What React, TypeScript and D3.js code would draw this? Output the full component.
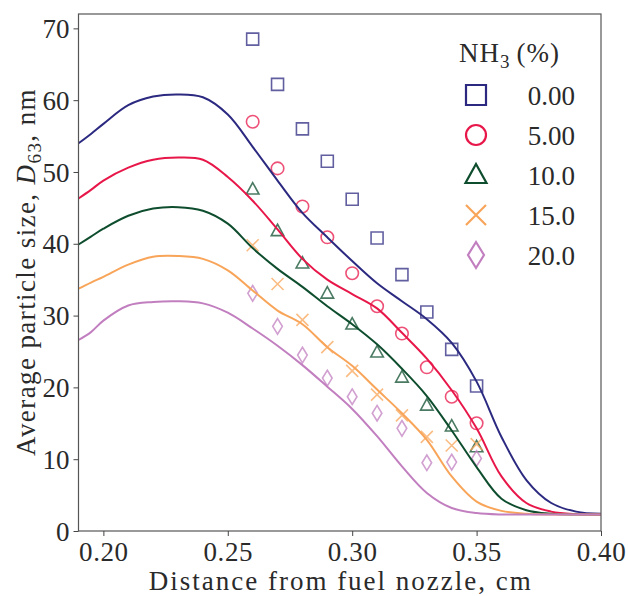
import React, { useEffect, useRef } from 'react';
import * as d3 from 'd3';

// simulated curves (x in cm)
const lineX = [0.19, 0.195, 0.20, 0.21, 0.22, 0.23, 0.24, 0.25, 0.26, 0.27, 0.28, 0.29, 0.30, 0.31, 0.32, 0.33, 0.34, 0.35, 0.36, 0.37, 0.38, 0.39, 0.40];
const line0 = [54.0, 55.3, 56.7, 59.3, 60.5, 60.8, 60.4, 58.0, 53.5, 48.8, 44.3, 40.9, 37.6, 34.5, 32.0, 29.5, 26.2, 20.8, 13.1, 7.1, 3.9, 2.7, 2.4];
const line5 = [46.3, 47.5, 48.8, 50.6, 51.7, 52.0, 51.7, 49.3, 46.0, 42.0, 37.9, 35.0, 33.0, 31.0, 27.6, 24.0, 19.6, 14.3, 7.6, 3.9, 2.7, 2.35, 2.3];
const line10 = [39.9, 41.0, 42.1, 43.9, 44.9, 45.1, 44.6, 42.8, 39.4, 36.5, 34.0, 31.3, 28.8, 26.0, 22.6, 18.8, 14.0, 8.9, 4.5, 2.9, 2.4, 2.3, 2.3];
const line15 = [33.75, 34.6, 35.4, 37.1, 38.2, 38.3, 37.9, 36.3, 33.5, 30.7, 28.8, 25.6, 23.0, 19.7, 16.4, 12.7, 7.6, 4.1, 2.8, 2.4, 2.3, 2.3, 2.3];
const line20 = [26.6, 27.7, 29.3, 31.4, 31.9, 32.0, 31.7, 30.4, 28.2, 25.8, 23.1, 20.1, 17.0, 13.2, 9.0, 5.3, 3.2, 2.5, 2.3, 2.3, 2.3, 2.3, 2.3];

// measured points
const pointX = [0.26, 0.27, 0.28, 0.29, 0.30, 0.31, 0.32, 0.33, 0.34, 0.35];
const pts0 = [68.5, 62.2, 56.0, 51.5, 46.2, 40.8, 35.7, 30.5, 25.3, 20.2];
const pts5 = [57.0, 50.5, 45.2, 40.9, 35.9, 31.3, 27.5, 22.8, 18.7, 15.0];
const pts10 = [47.6, 41.8, 37.3, 33.1, 28.8, 24.9, 21.4, 17.5, 14.6, 11.7];
const pts15 = [39.8, 34.4, 29.4, 25.6, 22.3, 19.0, 16.1, 13.1, 11.9, 12.1];
const pts20 = [33.1, 28.5, 24.5, 21.3, 18.7, 16.4, 14.3, 9.5, 9.6, 10.1];

const labels = ['0.00', '5.00', '10.0', '15.0', '20.0'];
const colors = ['#2c2a80', '#e8174a', '#0e4d2e', '#f8a55a', '#c27fc0'];
const markers = ['square', 'circle', 'triangle', 'cross', 'diamond'];
const xTicks = [0.20, 0.25, 0.30, 0.35, 0.40];
const yTicks = [0, 10, 20, 30, 40, 50, 60, 70];

const FONT = '"Liberation Serif", "Times New Roman", serif';
const INK = '#2a2a2a';

function markerPath(kind: string, s: number) {
  const h = s / 2;
  if (kind === 'square') return `M${-h},${-h}H${h}V${h}H${-h}Z`;
  if (kind === 'circle') return `M${h},0A${h},${h} 0 1,1 ${-h},0A${h},${h} 0 1,1 ${h},0Z`;
  if (kind === 'triangle') return `M0,${-h * 1.1}L${h * 1.05},${h * 0.8}L${-h * 1.05},${h * 0.8}Z`;
  if (kind === 'cross') return `M${-h},${-h}L${h},${h}M${-h},${h}L${h},${-h}`;
  return `M0,${-h * 1.3}L${h * 0.8},0L0,${h * 1.3}L${-h * 0.8},0Z`;
}

const Chart = () => {
  const svgRef = useRef<SVGSVGElement>(null);

  useEffect(() => {
    const svg = d3.select(svgRef.current);
    svg.selectAll('*').remove();

    const left = 78.5, right = 601, top = 14, bottom = 531;
    const x = d3.scaleLinear().domain([0.19, 0.40]).range([left, right]);
    const y = d3.scaleLinear().domain([0, 72]).range([bottom, top]);

    const lines = [line0, line5, line10, line15, line20];
    const pts = [pts0, pts5, pts10, pts15, pts20];

    svg.append('defs').append('clipPath').attr('id', 'plot-clip')
      .append('rect').attr('x', left).attr('y', top)
      .attr('width', right - left).attr('height', bottom - top);

    const lineGen = d3.line<number>()
      .x((d, i) => x(lineX[i]))
      .y(d => y(d))
      .curve(d3.curveCatmullRom.alpha(0.5));

    const plot = svg.append('g').attr('clip-path', 'url(#plot-clip)');

    // markers first, lines on top
    pts.forEach((series, k) => {
      plot.append('g').selectAll('path')
        .data(series)
        .enter()
        .append('path')
        .attr('transform', (d, i) => `translate(${x(pointX[i])},${y(d)})`)
        .attr('d', markerPath(markers[k], markers[k] === 'circle' ? 12.5 : 12))
        .attr('fill', 'none')
        .attr('stroke', colors[k])
        .attr('stroke-opacity', 0.75)
        .attr('stroke-width', 1.6);
    });

    lines.forEach((series, k) => {
      plot.append('path')
        .datum(series)
        .attr('d', lineGen)
        .attr('fill', 'none')
        .attr('stroke', colors[k])
        .attr('stroke-width', 2);
    });

    // frame
    svg.append('rect')
      .attr('x', left).attr('y', top)
      .attr('width', right - left).attr('height', bottom - top)
      .attr('fill', 'none').attr('stroke', '#555').attr('stroke-width', 1.2);

    // x axis
    const xAxis = svg.append('g')
      .attr('transform', `translate(0,${bottom})`)
      .call(d3.axisBottom(x).tickValues(xTicks).tickSize(5).tickPadding(6).tickFormat(d3.format('.2f')));
    xAxis.select('.domain').remove();
    xAxis.selectAll('line').attr('stroke', '#444');
    xAxis.selectAll('text')
      .attr('fill', INK)
      .style('font-family', FONT)
      .style('font-size', '27px')
      .style('letter-spacing', '0.6px');

    // y axis
    const yAxis = svg.append('g')
      .attr('transform', `translate(${left},0)`)
      .call(d3.axisLeft(y).tickValues(yTicks).tickSize(5).tickPadding(4).tickFormat(d3.format('d')));
    yAxis.select('.domain').remove();
    yAxis.selectAll('line').attr('stroke', '#444');
    yAxis.selectAll('text')
      .attr('fill', INK)
      .attr('dy', '0.34em')
      .style('font-family', FONT)
      .style('font-size', '27px');

    // axis titles
    svg.append('text')
      .attr('x', (left + right) / 2 + 1)
      .attr('y', 590)
      .attr('text-anchor', 'middle')
      .attr('fill', INK)
      .style('font-family', FONT)
      .style('font-size', '27px')
      .style('letter-spacing', '2px')
      .text('Distance from fuel nozzle, cm');

    const yl = svg.append('text')
      .attr('transform', `translate(35,${272}) rotate(-90)`)
      .attr('text-anchor', 'middle')
      .attr('fill', INK)
      .style('font-family', FONT)
      .style('font-size', '27px')
      .style('letter-spacing', '1.4px');
    yl.append('tspan').text('Average particle size, ');
    yl.append('tspan').style('font-style', 'italic').text('D');
    yl.append('tspan').attr('dy', 6).style('font-size', '19px').text('63');
    yl.append('tspan').attr('dy', -6).text(', nm');

    // legend
    const lg = svg.append('g');
    const title = lg.append('text')
      .attr('x', 459).attr('y', 62)
      .attr('fill', INK)
      .style('font-family', FONT)
      .style('font-size', '27px')
      .style('letter-spacing', '1px');
    title.append('tspan').text('NH');
    title.append('tspan').attr('dy', 6).style('font-size', '19px').text('3');
    title.append('tspan').attr('dy', -6).attr('dx', 6).text('(%)');

    labels.forEach((lab, k) => {
      const cy = 95 + k * 40;
      lg.append('path')
        .attr('transform', `translate(476,${cy})`)
        .attr('d', markerPath(markers[k], 20))
        .attr('fill', 'none')
        .attr('stroke', colors[k])
        .attr('stroke-width', 2.2);
      lg.append('text')
        .attr('x', 575).attr('y', cy + 10)
        .attr('text-anchor', 'end')
        .attr('fill', INK)
        .style('font-family', FONT)
        .style('font-size', '27px')
        .text(lab);
    });
  }, []);

  return <svg ref={svgRef} width={628} height={596} style={{ display: 'block' }} />;
};

export default function App() {
  return (
    <div style={{ position: 'fixed', left: 0, top: 0, width: 628, height: 596, background: '#fff' }}>
      <Chart />
    </div>
  );
}
